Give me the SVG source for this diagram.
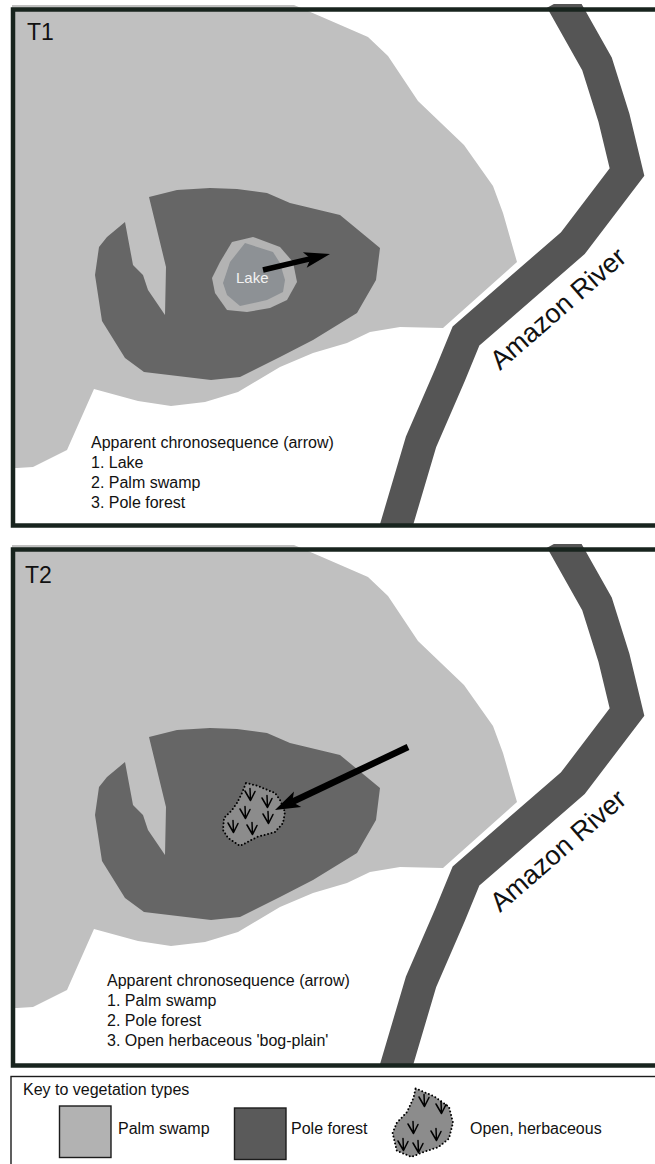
<svg xmlns="http://www.w3.org/2000/svg" width="655" height="1164" viewBox="0 0 655 1164">
  <style>
    .frame { fill: none; stroke: #18241e; stroke-width: 4.5; }
    .swamp { fill: #c0c0c0; }
    .forest { fill: #666666; }
    .river { fill: none; stroke: #555555; stroke-width: 32; stroke-linejoin: miter; }
    .label { font-family: "Liberation Sans", Arial, sans-serif; font-size: 16px; fill: #111111; }
    .title { font-family: "Liberation Sans", Arial, sans-serif; font-size: 23px; fill: #111111; }
    .riverName { font-family: "Liberation Sans", Arial, sans-serif; font-size: 27px; fill: #111111; }
    .lakeName { font-family: "Liberation Sans", Arial, sans-serif; font-size: 15px; fill: #f2f2f2; }
    .shaft { stroke: #000000; fill: none; }
    .head { fill: #000000; }
    .herbFill { fill: #8c8c8c; stroke: #000000; stroke-width: 2; stroke-dasharray: 0 3.6; stroke-linecap: round; stroke-linejoin: round; }
    .herb { fill: none; stroke: #000000; stroke-width: 1.5; stroke-linecap: round; stroke-linejoin: round; }
    .keyBox { fill: none; stroke: #1c1c1c; stroke-width: 1.4; }
    .swatch { stroke: #1c1c1c; stroke-width: 1.4; }
  </style>
  <defs>
    <clipPath id="panelClip">
      <rect x="0" y="4" width="655" height="521.5"/>
    </clipPath>
    <!-- herbaceous plant glyph: a stem with a downward V -->
    <path id="herbMark" class="herb" d="M0,-6.5 L0.5,5.5 M-5,-4 L0.5,5.5 L5,-3.5"/>
    <!-- shared floodplain base map: palm swamp, pole forest and the river -->
    <g id="baseMap" clip-path="url(#panelClip)">
      <polygon class="swamp" points="12,5 294,5 322,17 368,37 388,56 418,101 464,145 493,186 503,213 517,262 443,328 400,327 370,332 347,343 313,353 280,367 238,392 205,402 171,406 138,401 94,389 67,450 33,467 17,468 12,468"/>
      <polygon class="forest" points="149,197 177,190 210,188 237,189 267,193 290,203 340,215 380,248 376,280 357,313 313,340 280,357 240,377 211,380 144,372 125,358 102,321 95,275 99,247 107,237 125,222 133,265 143,275 148,290 165,315 166,267"/>
      <path class="river" d="M561,0 L597,64 L614,118 L627,172 L573,243 L466,336 L450,375 L421,442 L392,540"/>
    </g>
  </defs>

  <!-- Panel T1 -->
  <g id="panel-t1">
    <use href="#baseMap"/>
    <g id="lake">
      <polygon fill="#b3b3b3" points="232,242 253,237 280,247 293,262 297,282 287,300 270,308 247,312 227,310 215,293 212,278 220,262"/>
      <polygon fill="#8d9195" points="245,243 273,252 280,263 285,280 283,292 267,300 240,306 227,295 223,283 230,262"/>
      <text class="lakeName" x="236" y="283">Lake</text>
    </g>
    <g id="arrow-t1">
      <line class="shaft" x1="263" y1="270" x2="311" y2="258.6" stroke-width="5.5"/>
      <polygon class="head" points="330,254 302.9,252.2 310.6,258.6 306.7,267.8"/>
    </g>
    <rect class="frame" x="13" y="9.5" width="700" height="516"/>
    <text class="title" x="27" y="40">T1</text>
    <text class="riverName" transform="translate(500,371) rotate(-41)">Amazon River</text>
    <g id="legend-t1">
      <text class="label" x="91" y="448">Apparent chronosequence (arrow)</text>
      <text class="label" x="91" y="468">1. Lake</text>
      <text class="label" x="91" y="488">2. Palm swamp</text>
      <text class="label" x="91" y="508">3. Pole forest</text>
    </g>
  </g>

  <!-- Panel T2 -->
  <g id="panel-t2">
    <use href="#baseMap" transform="translate(0,540)"/>
    <g id="bog-plain">
      <polygon class="herbFill" points="246,783 258,786 275,793 280,800 285,812 283,823 275,832 257,837 240,846 228,838 223,830 224,818 232,810 237,803 242,793"/>
      <use href="#herbMark" x="250" y="795"/>
      <use href="#herbMark" x="267" y="802"/>
      <use href="#herbMark" x="245" y="813"/>
      <use href="#herbMark" x="268" y="818"/>
      <use href="#herbMark" x="233" y="827"/>
      <use href="#herbMark" x="252" y="829"/>
    </g>
    <g id="arrow-t2">
      <line class="shaft" x1="408" y1="747" x2="292" y2="802" stroke-width="6.5"/>
      <polygon class="head" points="275,810 294,791.6 292.2,801.9 301.2,807"/>
    </g>
    <rect class="frame" x="13" y="549.5" width="700" height="516"/>
    <text class="title" x="25" y="583">T2</text>
    <text class="riverName" transform="translate(500,913) rotate(-41)">Amazon River</text>
    <g id="legend-t2">
      <text class="label" x="107" y="986">Apparent chronosequence (arrow)</text>
      <text class="label" x="107" y="1006">1. Palm swamp</text>
      <text class="label" x="107" y="1026">2. Pole forest</text>
      <text class="label" x="107" y="1046">3. Open herbaceous 'bog-plain'</text>
    </g>
  </g>

  <!-- Key -->
  <g id="key">
    <rect class="keyBox" x="11" y="1076.5" width="700" height="120"/>
    <text class="label" x="23" y="1095">Key to vegetation types</text>
    <g id="key-palm-swamp">
      <rect class="swatch" x="59.5" y="1106" width="51.5" height="51.5" fill="#b2b2b2"/>
      <text class="label" x="118" y="1134">Palm swamp</text>
    </g>
    <g id="key-pole-forest">
      <rect class="swatch" x="234.5" y="1108" width="51.5" height="51.5" fill="#5a5a5a"/>
      <text class="label" x="291" y="1134">Pole forest</text>
    </g>
    <g id="key-open-herbaceous">
      <polygon class="herbFill" points="415.6,1088.4 434.4,1096.5 449,1107 453,1122.7 449,1138.5 438.6,1147 422,1152.5 411.4,1157 396.8,1150.7 392.6,1133 396.8,1122.7 407,1112 413.5,1098"/>
      <use href="#herbMark" x="424" y="1101"/>
      <use href="#herbMark" x="441" y="1108"/>
      <use href="#herbMark" x="413" y="1128"/>
      <use href="#herbMark" x="436" y="1135"/>
      <use href="#herbMark" x="403" y="1145"/>
      <use href="#herbMark" x="418" y="1147"/>
      <text class="label" x="470" y="1134">Open, herbaceous</text>
    </g>
  </g>
</svg>
